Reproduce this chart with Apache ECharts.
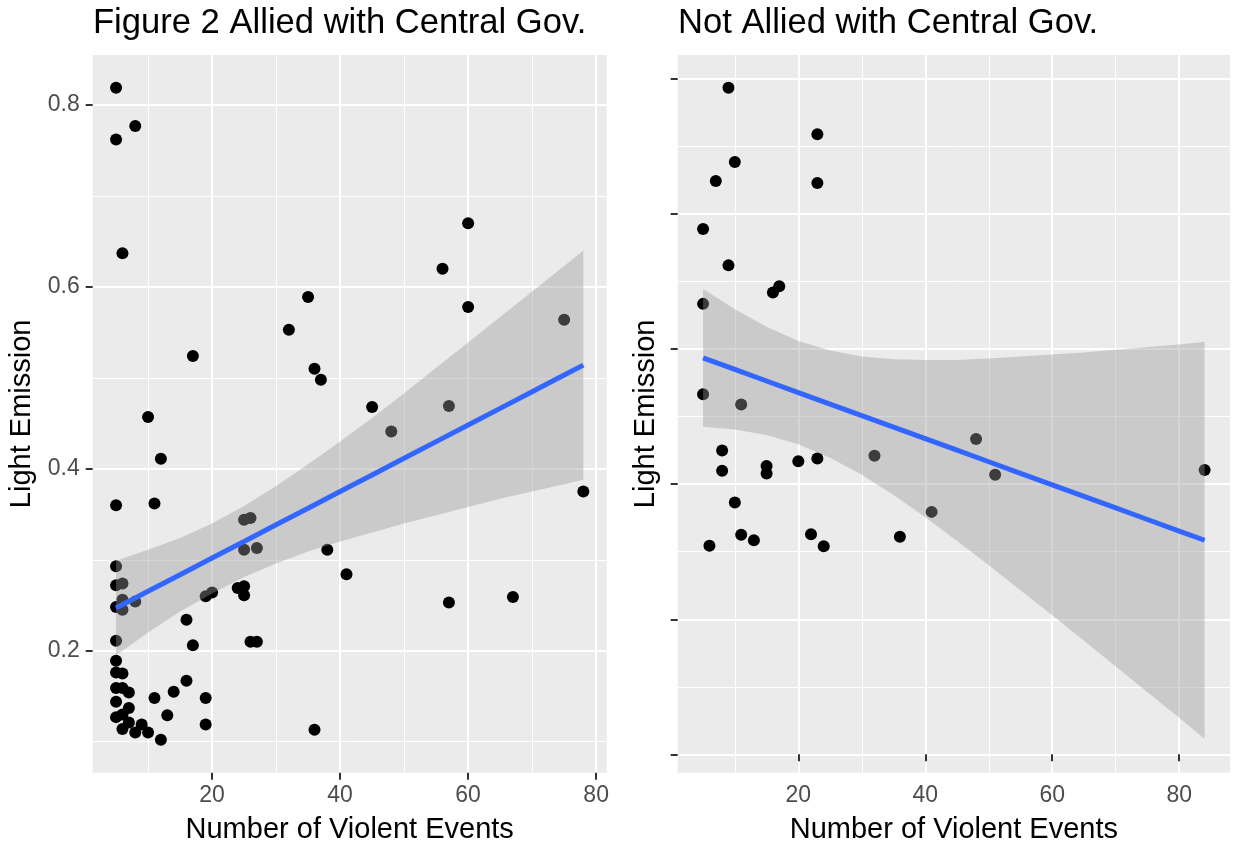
<!DOCTYPE html>
<html>
<head>
<meta charset="utf-8">
<title>Light Emission vs Violent Events</title>
<script src="https://cdn.jsdelivr.net/npm/echarts@6/dist/echarts.min.js"></script>
<style>
  html, body { margin: 0; padding: 0; background: #fff; }
  #main { width: 1234px; height: 843px; }
</style>
</head>
<body>
<div id="main"></div>
<script>
// allied panel: number of violent events / light emission
var alliedX = [5, 8, 5, 6, 60, 56, 35, 60, 75, 32, 17, 36, 37, 45, 57, 10, 48, 12, 5, 11, 78,
  25, 26, 25, 27, 38, 5, 41, 5, 6, 5, 6, 6, 8, 5, 16, 17, 19, 20, 24, 25, 25, 26, 27, 57, 67, 36,
  5, 5, 6, 5, 6, 7, 5, 7, 5, 6, 7, 6, 8, 9, 10, 12, 11, 14, 13, 16, 19, 19];
var alliedY = [0.819, 0.777, 0.762, 0.637, 0.670, 0.620, 0.589, 0.578, 0.564, 0.553, 0.524, 0.510, 0.498, 0.468, 0.469, 0.457, 0.441, 0.411, 0.360, 0.362, 0.375,
  0.344, 0.346, 0.311, 0.313, 0.311, 0.293, 0.284, 0.272, 0.274, 0.248, 0.256, 0.245, 0.254, 0.211, 0.234, 0.206, 0.260, 0.264, 0.269, 0.271, 0.261, 0.210, 0.210, 0.253, 0.259, 0.113,
  0.189, 0.176, 0.175, 0.159, 0.159, 0.154, 0.144, 0.137, 0.127, 0.130, 0.121, 0.114, 0.110, 0.119, 0.110, 0.102, 0.148, 0.155, 0.129, 0.167, 0.148, 0.119];

// smoother (fit + 95% band)
var alliedBandX = [5, 10, 15, 20, 25, 30, 35, 40, 45, 50, 55, 60, 65, 70, 75, 78];
var alliedFit   = [0.2470, 0.2653, 0.2836, 0.3019, 0.3202, 0.3385, 0.3567, 0.3750, 0.3933, 0.4116, 0.4299, 0.4482, 0.4665, 0.4848, 0.5031, 0.5140];
var alliedLow   = [0.195, 0.220, 0.243, 0.263, 0.281, 0.296, 0.309, 0.320, 0.330, 0.340, 0.349, 0.358, 0.367, 0.375, 0.383, 0.388];
var alliedHigh  = [0.299, 0.311, 0.324, 0.340, 0.359, 0.381, 0.405, 0.430, 0.456, 0.483, 0.511, 0.539, 0.567, 0.595, 0.623, 0.640];

// not allied panel (y tick labels are blank in the original)
var notAlliedX = [9, 23, 10, 7, 23, 5, 9, 16, 17, 5, 5, 11, 48, 8, 8, 15, 15, 20, 23, 32, 51, 84, 10, 41, 11, 13, 22, 36, 6, 24];
var notAlliedY = [0.987, 0.918, 0.877, 0.849, 0.846, 0.778, 0.724, 0.684, 0.693, 0.667, 0.533, 0.518, 0.467, 0.450, 0.420, 0.427, 0.416, 0.434, 0.438, 0.442,
  0.414, 0.421, 0.373, 0.359, 0.325, 0.317, 0.326, 0.322, 0.309, 0.308];

var notAlliedBandX = [5, 10, 15, 20, 25, 30, 35, 40, 45, 50, 55, 60, 65, 70, 75, 80, 84];
var notAlliedFit   = [0.5870, 0.5699, 0.5528, 0.5357, 0.5186, 0.5015, 0.4845, 0.4674, 0.4503, 0.4332, 0.4161, 0.3990, 0.3819, 0.3648, 0.3477, 0.3306, 0.3170];
var notAlliedLow   = [0.485, 0.481, 0.473, 0.459, 0.439, 0.414, 0.384, 0.351, 0.316, 0.280, 0.243, 0.206, 0.168, 0.130, 0.092, 0.054, 0.023];
var notAlliedHigh  = [0.689, 0.659, 0.633, 0.612, 0.598, 0.589, 0.585, 0.584, 0.584, 0.586, 0.589, 0.592, 0.595, 0.599, 0.603, 0.607, 0.611];

// tick positions
var xMajor = [20, 40, 60, 80];
var xMinor = [10, 30, 50, 70];
var leftYMajor = [0.2, 0.4, 0.6, 0.8];
var leftYMinor = [0.1, 0.3, 0.5, 0.7];
var rightYMajor = [0, 0.2, 0.4, 0.6, 0.8, 1.0];
var rightYMinor = [0.1, 0.3, 0.5, 0.7, 0.9];

var FONT = 'Liberation Sans, Arial, Helvetica, sans-serif';

function pairs(xs, ys) {
  var out = [];
  for (var i = 0; i < xs.length; i++) out.push([xs[i], ys[i]]);
  return out;
}

function bandRenderer(xs, lo, hi) {
  return function (params, api) {
    var pts = [];
    for (var i = 0; i < xs.length; i++) pts.push(api.coord([xs[i], hi[i]]));
    for (var j = xs.length - 1; j >= 0; j--) pts.push(api.coord([xs[j], lo[j]]));
    return {
      type: 'polygon',
      shape: { points: pts },
      style: { fill: 'rgba(153,153,153,0.4)' }
    };
  };
}

function majorAxis(gridIndex, min, max, values, showLabels, extra) {
  var ax = {
    type: 'value',
    gridIndex: gridIndex,
    min: min,
    max: max,
    axisLine: { show: false },
    axisTick: { show: true, length: 7, customValues: values, lineStyle: { color: '#333333', width: 2 } },
    axisLabel: {
      show: showLabels,
      customValues: values,
      color: '#4D4D4D',
      fontSize: 23,
      fontFamily: FONT
    },
    splitLine: { show: true, lineStyle: { color: '#ffffff', width: 2 } },
    nameTextStyle: { color: '#000', fontSize: 29, fontFamily: FONT }
  };
  for (var k in extra) ax[k] = extra[k];
  return ax;
}

function minorAxis(gridIndex, min, max, values) {
  return {
    type: 'value',
    gridIndex: gridIndex,
    min: min,
    max: max,
    axisLine: { show: false },
    axisTick: { show: false, customValues: values },
    axisLabel: { show: false, customValues: values },
    splitLine: { show: true, lineStyle: { color: '#ffffff', width: 1 } }
  };
}

var chart = echarts.init(document.getElementById('main'), null, { renderer: 'canvas' });

var option = {
  animation: false,
  backgroundColor: '#ffffff',
  title: [
    {
      text: 'Figure 2 Allied with Central Gov.',
      left: 93, top: 6, padding: 0,
      textStyle: { fontFamily: FONT, fontWeight: 'normal', fontSize: 34.6, color: '#000' }
    },
    {
      text: 'Not Allied with Central Gov.',
      left: 678, top: 6, padding: 0,
      textStyle: { fontFamily: FONT, fontWeight: 'normal', fontSize: 34.6, color: '#000' }
    }
  ],
  grid: [
    { left: 92.7, top: 55, width: 514, height: 717.7, outerBoundsMode: 'none', containLabel: false,
      show: true, backgroundColor: '#EBEBEB', borderWidth: 0 },
    { left: 677.7, top: 55, width: 552.3, height: 717.7, outerBoundsMode: 'none', containLabel: false,
      show: true, backgroundColor: '#EBEBEB', borderWidth: 0 }
  ],
  xAxis: [
    majorAxis(0, 1.35, 81.65, xMajor, true, {
      name: 'Number of Violent Events', nameLocation: 'middle', nameGap: 43,
      axisLabel: { customValues: xMajor, color: '#4D4D4D', fontSize: 23, fontFamily: FONT, margin: 11 }
    }),
    minorAxis(0, 1.35, 81.65, xMinor),
    majorAxis(1, 1.0, 88.0, xMajor, true, {
      name: 'Number of Violent Events', nameLocation: 'middle', nameGap: 43,
      axisLabel: { customValues: xMajor, color: '#4D4D4D', fontSize: 23, fontFamily: FONT, margin: 11 }
    }),
    minorAxis(1, 1.0, 88.0, xMinor)
  ],
  yAxis: [
    majorAxis(0, 0.0659, 0.855, leftYMajor, true, {
      name: 'Light Emission', nameLocation: 'middle', nameGap: 56, nameRotate: 90,
      axisLabel: { customValues: leftYMajor, color: '#4D4D4D', fontSize: 23, fontFamily: FONT, margin: 13 }
    }),
    minorAxis(0, 0.0659, 0.855, leftYMinor),
    majorAxis(1, -0.0272, 1.0355, rightYMajor, false, {
      name: 'Light Emission', nameLocation: 'middle', nameGap: 17, nameRotate: 90
    }),
    minorAxis(1, -0.0272, 1.0355, rightYMinor)
  ],
  series: [
    {
      type: 'scatter', xAxisIndex: 0, yAxisIndex: 0, z: 2,
      symbolSize: 12, itemStyle: { color: '#000000', opacity: 1 },
      data: pairs(alliedX, alliedY)
    },
    {
      type: 'custom', xAxisIndex: 0, yAxisIndex: 0, z: 3, silent: true,
      renderItem: bandRenderer(alliedBandX, alliedLow, alliedHigh),
      data: [[alliedBandX[0], alliedFit[0]]]
    },
    {
      type: 'line', xAxisIndex: 0, yAxisIndex: 0, z: 4,
      showSymbol: false, symbol: 'none',
      lineStyle: { color: '#3366FF', width: 5 },
      data: pairs(alliedBandX, alliedFit)
    },
    {
      type: 'scatter', xAxisIndex: 2, yAxisIndex: 2, z: 2,
      symbolSize: 12, itemStyle: { color: '#000000', opacity: 1 },
      data: pairs(notAlliedX, notAlliedY)
    },
    {
      type: 'custom', xAxisIndex: 2, yAxisIndex: 2, z: 3, silent: true,
      renderItem: bandRenderer(notAlliedBandX, notAlliedLow, notAlliedHigh),
      data: [[notAlliedBandX[0], notAlliedFit[0]]]
    },
    {
      type: 'line', xAxisIndex: 2, yAxisIndex: 2, z: 4,
      showSymbol: false, symbol: 'none',
      lineStyle: { color: '#3366FF', width: 5 },
      data: pairs(notAlliedBandX, notAlliedFit)
    }
  ]
};

chart.setOption(option);
</script>
</body>
</html>
